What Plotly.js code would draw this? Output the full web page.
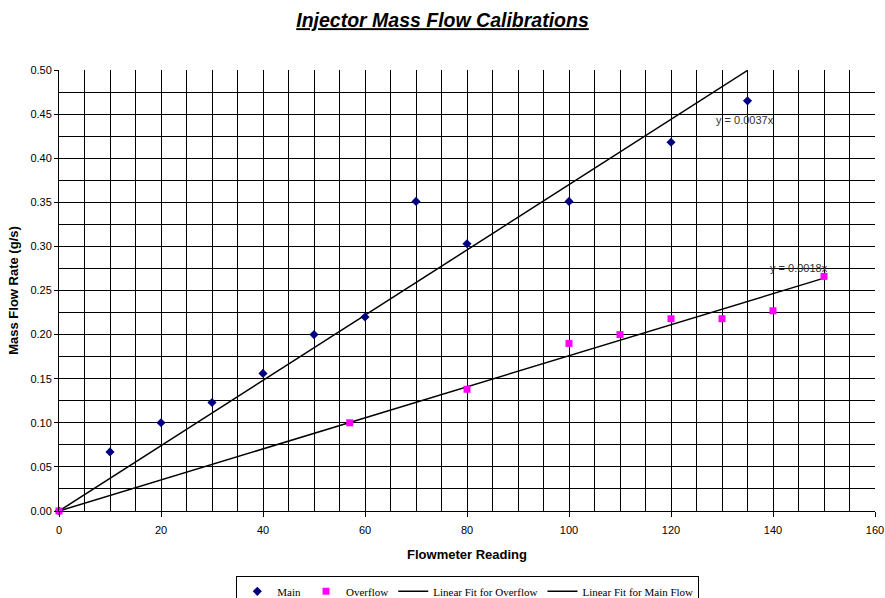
<!DOCTYPE html>
<html>
<head>
<meta charset="utf-8">
<script src="https://cdn.plot.ly/plotly-3.0.1.min.js"></script>
<style>html,body{margin:0;padding:0;background:#fff;}</style>
</head>
<body>
<div id="chart" style="width:885px;height:598px;"></div>
<script>
// Main injector data
const mainX = [0, 10, 20, 30, 40, 50, 60, 70, 80, 100, 120, 135];
const mainY = [0, 0.067, 0.100, 0.123, 0.156, 0.200, 0.220, 0.351, 0.303, 0.351, 0.418, 0.465];
// Overflow injector data
const overX = [0, 57, 80, 100, 110, 120, 130, 140, 150];
const overY = [0, 0.100, 0.138, 0.190, 0.200, 0.218, 0.218, 0.227, 0.266];
// Linear fits (trend lines)
const fitOverX = [0, 150];
const fitOverY = [0, 0.264];
const fitMainX = [0, 135];
const fitMainY = [0, 0.4995];
const seriesNames = ["Main", "Overflow", "Linear Fit for Overflow", "Linear Fit for Main Flow"];
const eqLabels = ["y = 0.0037x", "y = 0.0018x"];
const eqPos = [[128.5, 0.443], [139, 0.275]];

const narrow = "Liberation Sans Narrow, Arial Narrow, Liberation Sans, sans-serif";

const traces = [
  {x: fitOverX, y: fitOverY, name: seriesNames[2], type: "scatter", mode: "lines",
   line: {color: "#000000", width: 1.5}, legendrank: 3},
  {x: fitMainX, y: fitMainY, name: seriesNames[3], type: "scatter", mode: "lines",
   line: {color: "#000000", width: 1.5}, legendrank: 4},
  {x: mainX, y: mainY, name: seriesNames[0], type: "scatter", mode: "markers", cliponaxis: false,
   marker: {symbol: "diamond", color: "#000080", size: 7}, legendrank: 1},
  {x: overX, y: overY, name: seriesNames[1], type: "scatter", mode: "markers", cliponaxis: false,
   marker: {symbol: "square", color: "#ff00ff", size: 7}, legendrank: 2}
];

const layout = {
  width: 885, height: 598,
  paper_bgcolor: "#ffffff", plot_bgcolor: "#ffffff",
  margin: {l: 59, r: 10, t: 70, b: 87, pad: 0, autoexpand: false},
  font: {family: "Liberation Sans, Arial, sans-serif", color: "#000"},
  title: {text: "<b><i><u>Injector Mass Flow Calibrations</u></i></b>",
          font: {family: "Liberation Sans, Arial, sans-serif", size: 19.5, color: "#000"},
          x: 0.5, xanchor: "center", y: 0.966, yanchor: "middle"},
  xaxis: {
    range: [0, 160], dtick: 20, tick0: 0,
    ticks: "outside", ticklen: 5, tickcolor: "#000", ticklabelstandoff: 4,
    showgrid: true, gridcolor: "#000", gridwidth: 1,
    minor: {dtick: 5, showgrid: true, gridcolor: "#000", gridwidth: 1},
    showline: true, linecolor: "#000", linewidth: 1, mirror: false,
    zeroline: false,
    tickfont: {family: narrow, size: 11, color: "#000"},
    title: {text: "<b>Flowmeter Reading</b>", font: {family: narrow, size: 13, color: "#000"}, standoff: 14}
  },
  yaxis: {
    range: [0, 0.5], dtick: 0.05, tick0: 0, tickformat: ".2f",
    ticks: "outside", ticklen: 4, tickcolor: "#000",
    showgrid: true, gridcolor: "#000", gridwidth: 1,
    minor: {dtick: 0.025, showgrid: true, gridcolor: "#000", gridwidth: 1},
    showline: true, linecolor: "#000", linewidth: 1,
    zeroline: false,
    tickfont: {family: narrow, size: 11, color: "#000"},
    title: {text: "<b>Mass Flow Rate (g/s)</b>", font: {family: "Liberation Sans, Arial, sans-serif", size: 13, color: "#000"}, standoff: 8}
  },
  showlegend: true,
  legend: {
    orientation: "h", x: 0.501, xanchor: "center", y: -0.147, yanchor: "top",
    bordercolor: "#000", borderwidth: 1, bgcolor: "#fff",
    font: {family: "Liberation Serif, serif", size: 11, color: "#000"},
    traceorder: "normal", tracegroupgap: 0
  },
  annotations: [
    {x: eqPos[0][0], y: eqPos[0][1], text: eqLabels[0], showarrow: false, xanchor: "left", yanchor: "middle",
     font: {family: narrow, size: 11, color: "#333"}},
    {x: eqPos[1][0], y: eqPos[1][1], text: eqLabels[1], showarrow: false, xanchor: "left", yanchor: "middle",
     font: {family: narrow, size: 11, color: "#333"}}
  ]
};

Plotly.newPlot("chart", traces, layout, {displayModeBar: false, staticPlot: true});
</script>
</body>
</html>
